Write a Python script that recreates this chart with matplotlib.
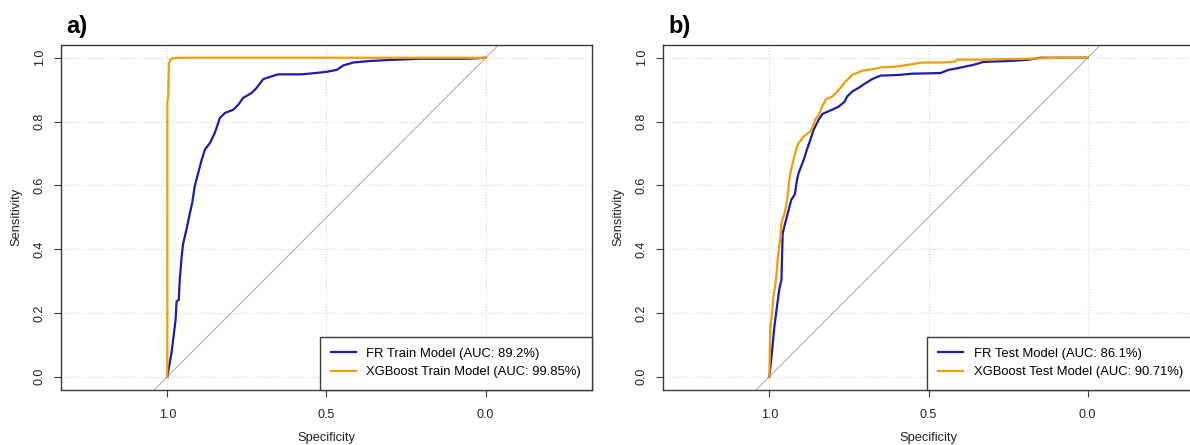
import matplotlib
matplotlib.use("Agg")
import matplotlib.pyplot as plt

plt.rcParams['font.family'] = ['Liberation Sans', 'DejaVu Sans']

# ---------------- data (specificity, sensitivity) ----------------
fr_train_spec = [1.0, 0.987, 0.974, 0.971, 0.964, 0.961, 0.955, 0.950, 0.940, 0.929, 0.922, 0.914,
                 0.903, 0.892, 0.882, 0.866, 0.851, 0.835, 0.819, 0.793, 0.777, 0.762, 0.735, 0.720,
                 0.699, 0.678, 0.652, 0.578, 0.536, 0.499, 0.468, 0.447, 0.416, 0.363, 0.300, 0.206,
                 0.054, 0.0]
fr_train_sens = [0.0, 0.074, 0.179, 0.236, 0.241, 0.304, 0.377, 0.419, 0.461, 0.513, 0.544, 0.597,
                 0.639, 0.680, 0.712, 0.733, 0.764, 0.811, 0.827, 0.837, 0.853, 0.874, 0.890, 0.905,
                 0.933, 0.940, 0.948, 0.948, 0.952, 0.956, 0.962, 0.976, 0.985, 0.990, 0.993, 0.997,
                 0.997, 1.0]

xgb_train_spec = [1.0, 1.0, 0.997, 0.995, 0.990, 0.980, 0.950, 0.0]
xgb_train_sens = [0.0, 0.86, 0.88, 0.98, 0.995, 0.999, 1.0, 1.0]

fr_test_spec = [1.0, 0.992, 0.984, 0.976, 0.969, 0.962, 0.960, 0.958, 0.950, 0.942, 0.931, 0.920,
                0.913, 0.908, 0.892, 0.882, 0.871, 0.861, 0.845, 0.833, 0.803, 0.782, 0.763, 0.756,
                0.740, 0.719, 0.698, 0.677, 0.651, 0.594, 0.552, 0.463, 0.437, 0.410, 0.358, 0.327,
                0.243, 0.185, 0.150, 0.0]
fr_test_sens = [0.0, 0.074, 0.158, 0.220, 0.273, 0.304, 0.377, 0.450, 0.482, 0.513, 0.555, 0.571,
                0.618, 0.639, 0.680, 0.712, 0.743, 0.774, 0.806, 0.824, 0.837, 0.847, 0.863, 0.878,
                0.894, 0.906, 0.920, 0.933, 0.944, 0.946, 0.950, 0.952, 0.962, 0.967, 0.978, 0.987,
                0.990, 0.994, 1.0, 1.0]

xgb_test_spec = [1.0, 0.997, 0.992, 0.987, 0.979, 0.973, 0.965, 0.962, 0.952, 0.944, 0.937, 0.934,
                 0.924, 0.913, 0.908, 0.892, 0.871, 0.861, 0.856, 0.845, 0.834, 0.822, 0.803, 0.782,
                 0.761, 0.740, 0.709, 0.677, 0.646, 0.604, 0.562, 0.520, 0.457, 0.416, 0.410, 0.337,
                 0.190, 0.086, 0.0]
xgb_test_sens = [0.0, 0.158, 0.194, 0.252, 0.304, 0.377, 0.440, 0.482, 0.513, 0.555, 0.618, 0.639,
                 0.680, 0.722, 0.733, 0.753, 0.769, 0.790, 0.806, 0.821, 0.847, 0.870, 0.878, 0.899,
                 0.925, 0.946, 0.959, 0.964, 0.970, 0.972, 0.978, 0.985, 0.985, 0.988, 0.994, 0.994,
                 0.997, 1.0, 1.0]

labels_a = ["FR Train Model (AUC: 89.2%)", "XGBoost Train Model (AUC: 99.85%)"]
labels_b = ["FR Test Model (AUC: 86.1%)", "XGBoost Test Model (AUC: 90.71%)"]
panel_titles = ["a)", "b)"]
x_ticks = [1.0, 0.5, 0.0]
y_ticks = [0.0, 0.2, 0.4, 0.6, 0.8, 1.0]

# ---------------- styling ----------------
BLUE = "#1c1cb0"
ORANGE = "#F0A000"
W, H = 1190, 445

fig = plt.figure(figsize=(W / 100, H / 100), dpi=100)

def make_axes(left_px):
    bottom_px = 389.5
    top_px = 45.0
    return fig.add_axes([left_px / W, (H - bottom_px) / H, 531 / W, (bottom_px - top_px) / H])

def style(ax, fr_s, fr_v, xg_s, xg_v, labels, title, left_px):
    ax.set_xlim(1.334, -0.334)
    ax.set_ylim(-0.04, 1.04)
    ax.set_xticks(x_ticks)
    ax.set_yticks(y_ticks)
    ax.set_xticklabels([f"{v:.1f}" for v in x_ticks])
    ax.set_yticklabels([f"{v:.1f}" for v in y_ticks], rotation=90, va='center')
    ax.grid(True, linestyle=':', color='#d4d4d4', linewidth=0.8)
    ax.set_axisbelow(True)
    ax.axline((1, 0), (0, 1), color='#a8a8a8', linewidth=0.7, zorder=1)
    ax.plot(fr_s, fr_v, color=BLUE, linewidth=1.6, label=labels[0], zorder=3)
    ax.plot(xg_s, xg_v, color=ORANGE, linewidth=1.6, label=labels[1], zorder=3)
    for sp in ax.spines.values():
        sp.set_color('#3a3a3a')
        sp.set_linewidth(1.0)
    ax.tick_params(axis='both', direction='out', length=5, width=0.8, colors='#3a3a3a',
                   labelcolor='#222222', labelsize=9)
    ax.tick_params(axis='x', pad=9)
    ax.tick_params(axis='y', pad=6)
    ax.set_xlabel("Specificity", fontsize=9.3, color='#222222', labelpad=8)
    ax.set_ylabel("Sensitivity", fontsize=9.3, color='#222222', labelpad=8)
    leg = ax.legend(loc='lower right', borderaxespad=0, fancybox=False, framealpha=1,
                    edgecolor='#3a3a3a', fontsize=9.4, handlelength=1.9, handletextpad=0.8,
                    borderpad=0.85, labelspacing=0.5)
    leg.get_frame().set_linewidth(1.0)
    fig.text((left_px + 5) / W, 1 - 26 / H, title, fontsize=17, fontweight='bold',
             va='center', ha='left')

ax1 = make_axes(61)
style(ax1, fr_train_spec, fr_train_sens, xgb_train_spec, xgb_train_sens, labels_a, panel_titles[0], 61)
ax2 = make_axes(663)
style(ax2, fr_test_spec, fr_test_sens, xgb_test_spec, xgb_test_sens, labels_b, panel_titles[1], 663)

fig.savefig("out.png", dpi=100)
